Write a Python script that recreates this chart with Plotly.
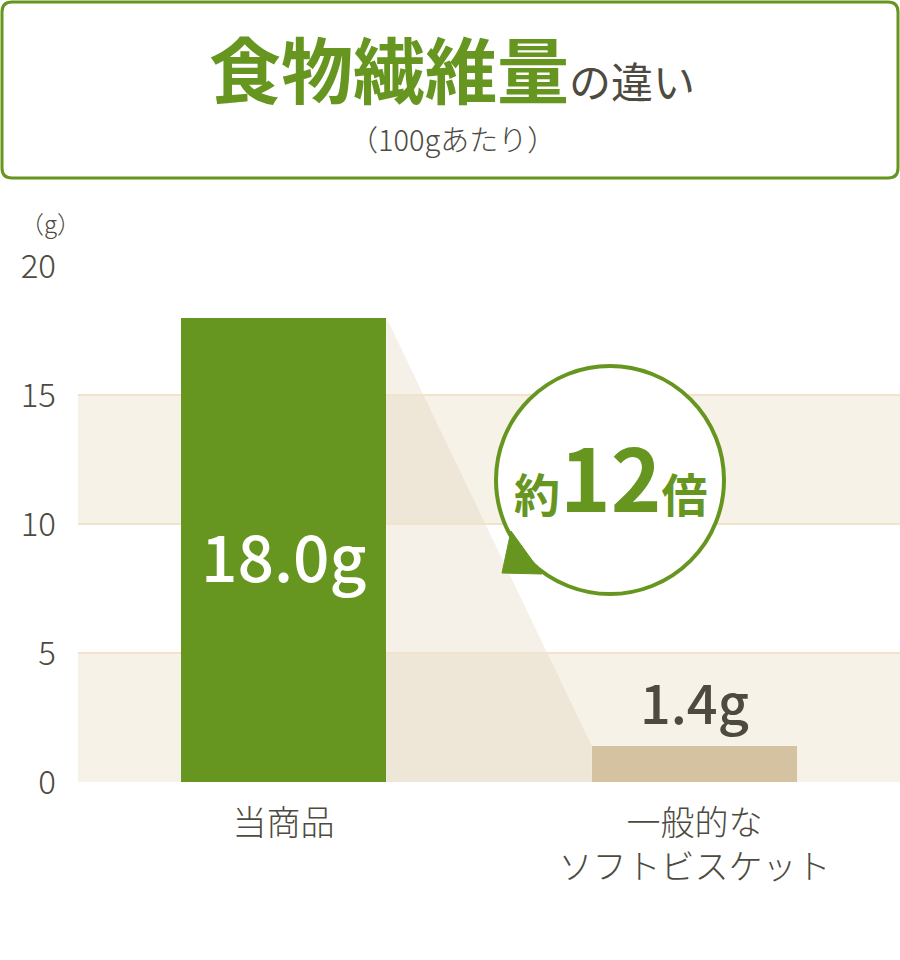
import plotly.graph_objects as go

# data
categories = ["当商品", "一般的な<br>ソフトビスケット"]
values = [18.0, 1.4]
value_labels = ["18.0g", "1.4g"]
bar_colors = ["#66961f", "#d4c2a0"]
ratio_label = "約<span style='font-size:86px'>12</span>倍"
y_ticks = [0, 5, 10, 15, 20]

green = "#66961f"
text_col = "#4d4a40"
font_jp = "Noto Sans CJK JP"

# plot area in pixels: x 78..900, y 266..782
L, R, T, B = 78, 0, 266, 178
W, H = 900, 960
pw = W - L - R
ph = H - T - B


def px_x(p):
    return (p - L) / pw


def px_y(p):
    return (H - B - p) / ph


fig = go.Figure(go.Bar(
    x=[0, 1],
    y=values,
    width=0.5,
    marker=dict(color=bar_colors, line=dict(width=0)),
    hoverinfo="skip",
))

shapes = []
# shaded bands 0-5 and 10-15
for lo, hi in [(0, 5), (10, 15)]:
    shapes.append(dict(type="rect", xref="paper", yref="y", x0=0, x1=1, y0=lo, y1=hi,
                       fillcolor="#f6f2e8", line_width=0, layer="below"))

# translucent connector between the bars
shapes.append(dict(
    type="path", xref="x", yref="y", layer="below",
    path=f"M 0.25,{values[0]} L 0.75,{values[1]} L 0.75,0 L 0.25,0 Z",
    fillcolor="rgba(212,194,160,0.24)", line_width=0,
))

# title box with rounded corners
x0, x1 = px_x(2), px_x(898)
y0, y1 = px_y(178), px_y(2)
rx, ry = 10 / pw, 10 / ph
box = (f"M {x0+rx},{y1} L {x1-rx},{y1} Q {x1},{y1} {x1},{y1-ry} "
       f"L {x1},{y0+ry} Q {x1},{y0} {x1-rx},{y0} "
       f"L {x0+rx},{y0} Q {x0},{y0} {x0},{y0+ry} "
       f"L {x0},{y1-ry} Q {x0},{y1} {x0+rx},{y1} Z")
shapes.append(dict(type="path", xref="paper", yref="paper", path=box,
                   line=dict(color=green, width=3), fillcolor="white", layer="above"))

# speech bubble
cx, cy = px_x(610), px_y(480)
shapes.append(dict(type="circle", xref="paper", yref="paper",
                   xsizemode="pixel", ysizemode="pixel", xanchor=cx, yanchor=cy,
                   x0=-114, x1=114, y0=-114, y1=114,
                   fillcolor="white", line=dict(color=green, width=4), layer="above"))
shapes.append(dict(type="path", xref="paper", yref="paper",
                   xsizemode="pixel", ysizemode="pixel", xanchor=cx, yanchor=cy,
                   path="M -99,-51 L -108,-93 L -68,-94 Z",
                   fillcolor=green, line=dict(color=green, width=1), layer="above"))

annotations = [
    dict(x=0, y=values[0] / 2, xref="x", yref="y", text=value_labels[0], showarrow=False,
         xanchor="center", yanchor="middle", yshift=-4,
         font=dict(family=font_jp, size=64, color="white", weight=500)),
    dict(x=1, y=values[1], xref="x", yref="y", text=value_labels[1], showarrow=False,
         xanchor="center", yanchor="bottom", yshift=4,
         font=dict(family=font_jp, size=54, color=text_col, weight=500)),
    dict(x=cx, y=cy, xref="paper", yref="paper", text=ratio_label, showarrow=False,
         xanchor="center", yanchor="middle", yshift=6,
         font=dict(family=font_jp, size=46, color=green, weight="bold")),
    dict(x=px_x(452), y=px_y(66), xref="paper", yref="paper", showarrow=False,
         xanchor="center", yanchor="middle",
         text="<b><span style='font-size:72px;color:#66961f'>食物繊維量</span></b>の違い",
         font=dict(family=font_jp, size=42, color=text_col)),
    dict(x=px_x(452), y=px_y(138), xref="paper", yref="paper", showarrow=False,
         xanchor="center", yanchor="middle",
         text="（100gあたり）", font=dict(family=font_jp, size=29, color=text_col, weight=300)),
    dict(x=px_x(50), y=px_y(222), xref="paper", yref="paper", showarrow=False,
         xanchor="center", yanchor="middle",
         text="（g）", font=dict(family=font_jp, size=24, color=text_col, weight=300)),
]

fig.update_layout(
    width=W, height=H,
    margin=dict(l=L, r=R, t=T, b=B),
    paper_bgcolor="white", plot_bgcolor="white",
    showlegend=False,
    bargap=0,
    shapes=shapes,
    annotations=annotations,
    xaxis=dict(
        range=[-0.5, 1.5], tickvals=[0, 1], ticktext=categories,
        showgrid=False, zeroline=False, showline=False, ticks="",
        tickfont=dict(family=font_jp, size=34, color=text_col, weight=300),
        ticklabelstandoff=18,
    ),
    yaxis=dict(
        range=[0, 20], tickvals=y_ticks, showgrid=True,
        gridcolor="#f2e4cc", gridwidth=2, zeroline=False, showline=False, ticks="",
        tickfont=dict(family=font_jp, size=33, color=text_col, weight=300),
        ticklabelstandoff=21,
    ),
)

# drop the page's default body margin so the figure fills the window
fig.write_html("out.html", config={"displayModeBar": False},
               post_script="document.body.style.margin='0';")
